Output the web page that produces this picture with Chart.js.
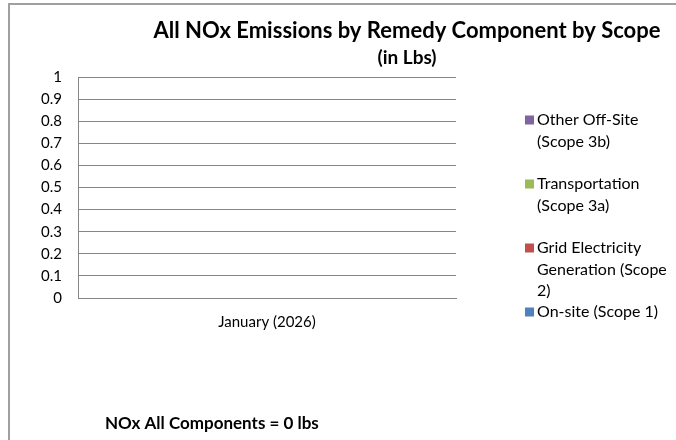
<!DOCTYPE html>
<html>
<head>
<meta charset="utf-8">
<script src="https://cdn.jsdelivr.net/npm/chart.js@4.4.1/dist/chart.umd.min.js"></script>
<style>
html,body{margin:0;padding:0;background:#fff;}
#wrap{position:relative;width:676px;height:440px;}
</style>
</head>
<body>
<div id="wrap"><canvas id="c" width="676" height="440"></canvas></div>
<script>
// ---- data ----
const categories = ["January (2026)"];
const seriesNames = ["On-site (Scope 1)", "Grid Electricity Generation (Scope 2)", "Transportation (Scope 3a)", "Other Off-Site (Scope 3b)"];
const seriesColors = ["#4F81BD", "#C0504D", "#9BBB59", "#8064A2"];
const onSite = [0];
const gridElectricity = [0];
const transportation = [0];
const otherOffSite = [0];
const yTicks = [0, 0.1, 0.2, 0.3, 0.4, 0.5, 0.6, 0.7, 0.8, 0.9, 1];
const yTickLabels = ["0", "0.1", "0.2", "0.3", "0.4", "0.5", "0.6", "0.7", "0.8", "0.9", "1"];
const titleText = "All NOx Emissions by Remedy Component by Scope";
const subtitleText = "(in Lbs)";
const footerText = "NOx All Components = 0 lbs";

const seriesValues = [onSite, gridElectricity, transportation, otherOffSite];
const FONT = "Lato, 'Open Sans', sans-serif";

const decor = {
  id: 'decor',
  afterDraw(chart) {
    const ctx = chart.ctx;
    ctx.save();
    // outer border (top and left)
    ctx.strokeStyle = '#a0a0a0';
    ctx.lineWidth = 2;
    ctx.beginPath();
    ctx.moveTo(9, 440);
    ctx.lineTo(9, 4);
    ctx.lineTo(676, 4);
    ctx.stroke();
    // title
    ctx.fillStyle = '#000';
    ctx.textAlign = 'center';
    ctx.textBaseline = 'middle';
    ctx.font = "bold 22px " + FONT;
    ctx.fillText(titleText, 407, 31);
    ctx.font = "bold 19px " + FONT;
    ctx.fillText(subtitleText, 407, 58);
    // footer
    ctx.textAlign = 'left';
    ctx.font = "bold 17px " + FONT;
    ctx.fillText(footerText, 105, 424);
    // legend (reversed like stacked column legend)
    ctx.font = "16px " + FONT;
    const ds = chart.data.datasets;
    const maxW = 136, lineH = 21.5, slot = 64;
    let y0 = 120;
    for (let k = ds.length - 1, i = 0; k >= 0; k--, i++) {
      const words = ds[k].label.split(' ');
      const lines = [];
      let cur = '';
      for (const w of words) {
        const t = cur ? cur + ' ' + w : w;
        if (ctx.measureText(t).width > maxW && cur) { lines.push(cur); cur = w; }
        else cur = t;
      }
      if (cur) lines.push(cur);
      const yc = y0 + i * slot;
      ctx.fillStyle = ds[k].backgroundColor;
      ctx.fillRect(525, yc - 4.5, 9, 9);
      ctx.fillStyle = '#000';
      lines.forEach((ln, j) => ctx.fillText(ln, 537, yc + j * lineH));
    }
    ctx.restore();
  }
};

new Chart(document.getElementById('c'), {
  type: 'bar',
  data: {
    labels: categories,
    datasets: seriesNames.map((n, i) => ({
      label: n,
      data: seriesValues[i],
      backgroundColor: seriesColors[i],
      borderWidth: 0
    }))
  },
  options: {
    responsive: false,
    animation: false,
    devicePixelRatio: 1,
    layout: { padding: { left: 0, right: 220, top: 77, bottom: 0 } },
    plugins: { legend: { display: false }, title: { display: false }, tooltip: { enabled: false } },
    scales: {
      x: {
        stacked: true,
        grid: { display: false, drawTicks: false },
        border: { display: true, color: '#868686', width: 1 },
        ticks: { color: '#000', font: { family: FONT, size: 15 }, padding: 15 },
        afterFit(s) { s.height = 142; }
      },
      y: {
        stacked: true,
        min: 0, max: 1,
        afterBuildTicks(s) { s.ticks = yTicks.map(v => ({ value: v })); },
        grid: { color: '#868686', lineWidth: 1, drawTicks: false },
        border: { display: true, color: '#868686', width: 1 },
        ticks: {
          color: '#000', font: { family: FONT, size: 15 }, padding: 16,
          callback(v, i) { return yTickLabels[i]; }
        },
        afterFit(s) { s.width = 78; }
      }
    }
  },
  plugins: [decor]
});
</script>
</body>
</html>
